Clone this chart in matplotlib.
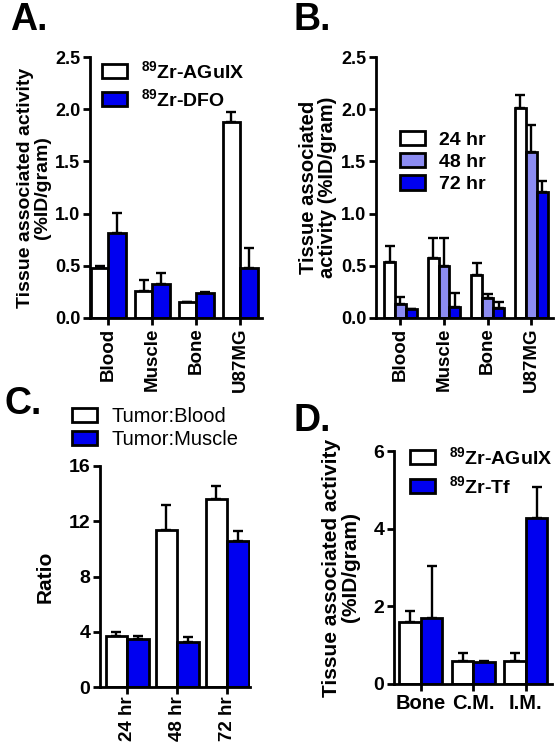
import matplotlib
matplotlib.use('Agg')
import matplotlib.pyplot as plt
import numpy as np
from matplotlib.patches import Patch

plt.rcParams['font.family'] = ['Liberation Sans', 'DejaVu Sans']
plt.rcParams['font.weight'] = 'bold'
plt.rcParams['axes.labelweight'] = 'bold'
plt.rcParams['mathtext.fontset'] = 'custom'
plt.rcParams['mathtext.rm'] = 'Liberation Sans:bold'
plt.rcParams['mathtext.bf'] = 'Liberation Sans:bold'
plt.rcParams['mathtext.default'] = 'bf'

BLUE = '#0000F0'
LIGHT = '#8C8CF2'
WHITE = '#FFFFFF'

# ---------------- data ----------------
# Panel A
a_tissues = ['Blood', 'Muscle', 'Bone', 'U87MG']
a_aguix = [0.48, 0.26, 0.15, 1.88]
a_aguix_err = [0.02, 0.10, 0.0, 0.09]
a_dfo = [0.81, 0.33, 0.24, 0.48]
a_dfo_err = [0.20, 0.10, 0.005, 0.19]
a_yticks = [0.0, 0.5, 1.0, 1.5, 2.0, 2.5]
a_labels = [r'$^{89}$Zr-AGuIX', r'$^{89}$Zr-DFO']

# Panel B
b_tissues = ['Blood', 'Muscle', 'Bone', 'U87MG']
b_24 = [0.54, 0.57, 0.41, 2.01]
b_24_err = [0.15, 0.20, 0.12, 0.13]
b_48 = [0.13, 0.50, 0.19, 1.59]
b_48_err = [0.07, 0.27, 0.04, 0.26]
b_72 = [0.09, 0.11, 0.10, 1.21]
b_72_err = [0.0, 0.13, 0.05, 0.10]
b_yticks = [0.0, 0.5, 1.0, 1.5, 2.0, 2.5]
b_labels = ['24 hr', '48 hr', '72 hr']

# Panel C
c_times = ['24 hr', '48 hr', '72 hr']
c_blood = [3.7, 11.4, 13.6]
c_blood_err = [0.27, 1.8, 0.95]
c_muscle = [3.5, 3.25, 10.55]
c_muscle_err = [0.17, 0.4, 0.75]
c_yticks = [0, 4, 8, 12, 16]
c_labels = ['Tumor:Blood', 'Tumor:Muscle']

# Panel D
d_tissues = ['Bone', 'C.M.', 'I.M.']
d_aguix = [1.60, 0.59, 0.59]
d_aguix_err = [0.27, 0.20, 0.22]
d_tf = [1.70, 0.57, 4.28]
d_tf_err = [1.35, 0.03, 0.79]
d_yticks = [0, 2, 4, 6]
d_labels = [r'$^{89}$Zr-AGuIX', r'$^{89}$Zr-Tf']

# ---------------- figure ----------------
W, H = 558, 750
fig = plt.figure(figsize=(W / 100, H / 100), dpi=100)


def px_axes(left, right, top, bottom):
    return fig.add_axes([left / W, 1 - bottom / H, (right - left) / W, (bottom - top) / H])


LW = 2.0


def style(ax, yticks, tick_fs):
    for s in ['top', 'right']:
        ax.spines[s].set_visible(False)
    for s in ['left', 'bottom']:
        ax.spines[s].set_linewidth(LW)
    ax.set_yticks(yticks)
    ax.set_ylim(yticks[0], yticks[-1])
    ax.tick_params(axis='both', width=LW, length=5, labelsize=tick_fs, pad=2)


def bars(ax, x, vals, errs, color):
    ax.bar(x, vals, width=w, color=color, edgecolor='black', linewidth=LW, zorder=2)
    ax.errorbar(x, vals, yerr=[np.zeros(len(errs)), errs], fmt='none', ecolor='black',
                elinewidth=LW * 0.85, capsize=3.5, capthick=LW * 0.85, zorder=1)


def legend(ax, colors, labels, x, y, fs, weight='bold', spacing=0.45, hl=1.3, hh=0.75):
    handles = [Patch(facecolor=c, edgecolor='black', linewidth=LW) for c in colors]
    ax.legend(handles, labels, loc='upper left', bbox_to_anchor=(x / W, 1 - y / H),
              bbox_transform=fig.transFigure, frameon=False, borderpad=0, borderaxespad=0,
              handlelength=hl, handleheight=hh, handletextpad=0.7, labelspacing=spacing,
              prop={'size': fs, 'weight': weight})


# Panel A
axA = px_axes(90, 262, 57, 318)
x = np.arange(len(a_tissues))
w = 0.40
bars(axA, x - w / 2, a_aguix, a_aguix_err, WHITE)
bars(axA, x + w / 2, a_dfo, a_dfo_err, BLUE)
style(axA, a_yticks, 13)
axA.set_xlim(-0.42, 3.5)
axA.set_xticks(x)
axA.set_xticklabels(a_tissues, rotation=90, fontsize=13.5)
axA.set_yticklabels([f'{v:.1f}' for v in a_yticks])
axA.set_ylabel('Tissue associated activity\n(%ID/gram)', fontsize=14, labelpad=3,
               linespacing=1.0)
legend(axA, [WHITE, BLUE], a_labels, 102, 60, 14, spacing=0.3)
fig.text(10 / W, 1 - 2 / H, 'A.', fontsize=27, weight='bold', va='top', ha='left')

# Panel B
axB = px_axes(376, 553, 57, 318)
x = np.arange(len(b_tissues))
w = 0.25
bars(axB, x - w, b_24, b_24_err, WHITE)
bars(axB, x, b_48, b_48_err, LIGHT)
bars(axB, x + w, b_72, b_72_err, BLUE)
style(axB, b_yticks, 13)
axB.set_xlim(-0.56, 3.5)
axB.set_xticks(x)
axB.set_xticklabels(b_tissues, rotation=90, fontsize=13.5)
axB.set_yticklabels([f'{v:.1f}' for v in b_yticks])
axB.set_ylabel('Tissue associated\nactivity (%ID/gram)', fontsize=14.5, labelpad=3,
               linespacing=1.0)
legend(axB, [WHITE, LIGHT, BLUE], b_labels, 400, 131, 14, spacing=0.22)
fig.text(293 / W, 1 - 2 / H, 'B.', fontsize=27, weight='bold', va='top', ha='left')

# Panel C
axC = px_axes(100, 250, 466, 687)
x = np.arange(len(c_times))
w = 0.43
bars(axC, x - w / 2, c_blood, c_blood_err, WHITE)
bars(axC, x + w / 2, c_muscle, c_muscle_err, BLUE)
style(axC, c_yticks, 14)
axC.set_xlim(-0.54, 2.46)
axC.set_xticks(x)
axC.set_xticklabels(c_times, rotation=90, fontsize=13.5)
axC.set_ylabel('Ratio', fontsize=15, labelpad=10)
legend(axC, [WHITE, BLUE], c_labels, 72, 407, 14.5, weight='normal', spacing=0.2,
       hl=1.25, hh=0.7)
fig.text(4 / W, 1 - 386 / H, 'C.', fontsize=27, weight='bold', va='top', ha='left')

# Panel D
axD = px_axes(394, 552, 451, 684)
x = np.arange(len(d_tissues))
w = 0.41
bars(axD, x - w / 2, d_aguix, d_aguix_err, WHITE)
bars(axD, x + w / 2, d_tf, d_tf_err, BLUE)
style(axD, d_yticks, 14)
axD.set_xlim(-0.51, 2.5)
axD.set_xticks(x)
axD.set_xticklabels(d_tissues, fontsize=14.5)
axD.set_ylabel('Tissue associated activity\n(%ID/gram)', fontsize=15, labelpad=10,
               linespacing=1.0)
legend(axD, [WHITE, BLUE], d_labels, 410, 446, 14, spacing=0.35)
fig.text(294 / W, 1 - 403 / H, 'D.', fontsize=27, weight='bold', va='top', ha='left')

fig.savefig('out.png', dpi=100, facecolor='white')
